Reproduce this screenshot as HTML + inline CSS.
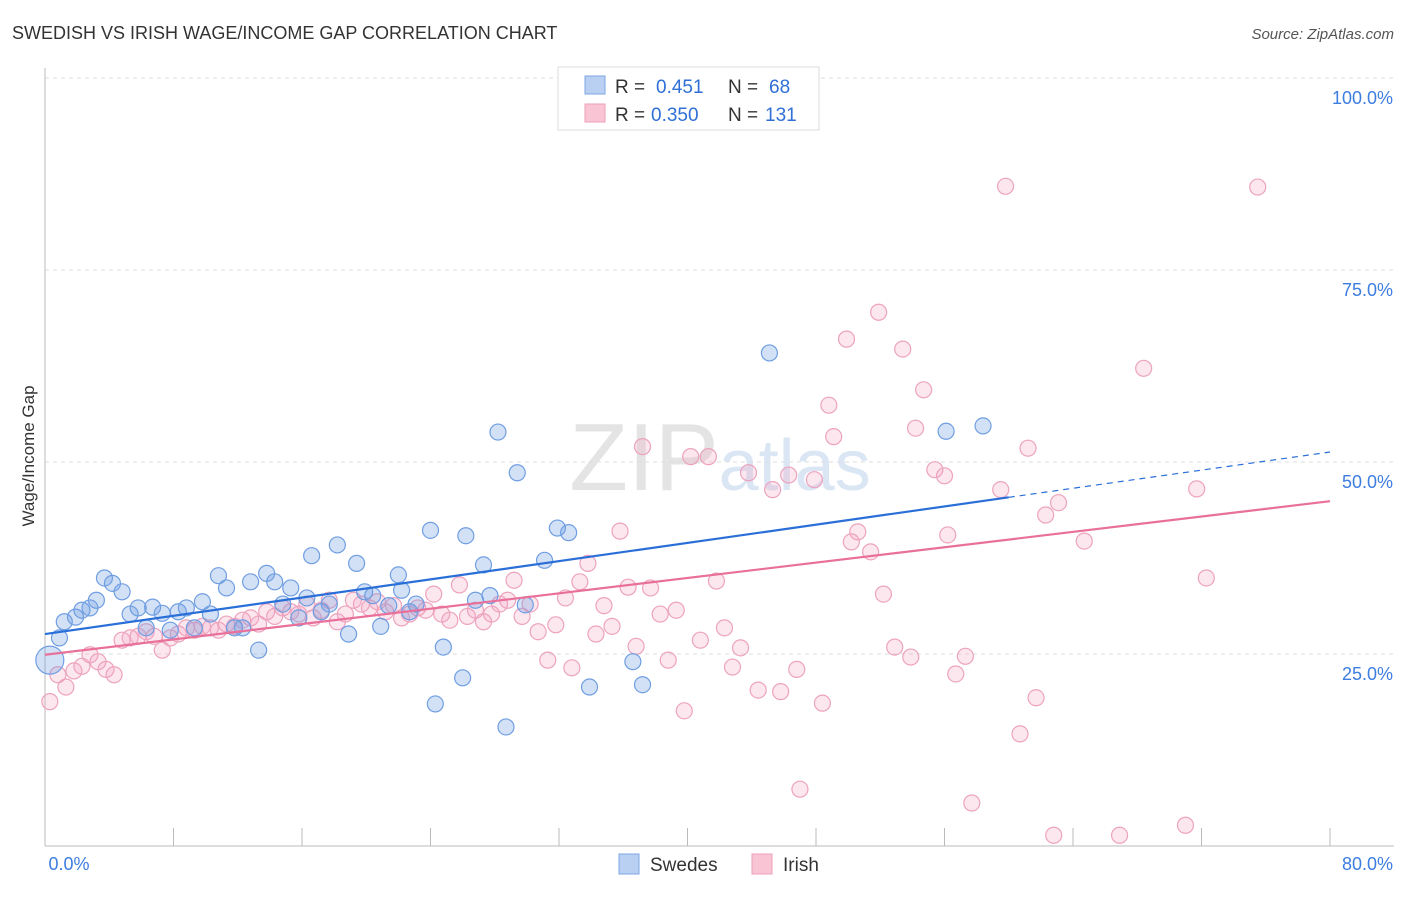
<!DOCTYPE html>
<html><head><meta charset="utf-8"><style>
body{margin:0;background:#fff;font-family:"Liberation Sans",sans-serif}
svg text{font-family:"Liberation Sans",sans-serif}
</style></head><body>
<svg id="chart" width="1406" height="892" xmlns="http://www.w3.org/2000/svg">
<text x="12" y="39" font-size="18" fill="#333">SWEDISH VS IRISH WAGE/INCOME GAP CORRELATION CHART</text>
<text x="1394" y="39" font-size="15" fill="#555" text-anchor="end" font-style="italic">Source: ZipAtlas.com</text>
<text x="720" y="490" font-size="96" fill="#e4e4e4" text-anchor="middle" font-family="Liberation Serif">ZIP<tspan fill="#dbe6f5" font-family="Liberation Sans" font-size="72">atlas</tspan></text>
<text transform="translate(34,456) rotate(-90)" font-size="17" fill="#333" text-anchor="middle">Wage/Income Gap</text>
<g id="grid"></g><g id="axes"></g><g id="pink"></g><g id="blue"></g><g id="lines"></g>
<g>
<rect x="558" y="67" width="261" height="63" fill="#fff" stroke="#ddd"/>
<rect x="585" y="76" width="20" height="18" fill="#b9d0f3" stroke="#7ea6e6"/>
<rect x="585" y="104" width="20" height="18" fill="#f9c4d4" stroke="#ee9fba"/>
<text x="615" y="93" font-size="19" fill="#333">R =</text>
<text x="656" y="93" font-size="19" fill="#2f6fd6">0.451</text>
<text x="728" y="93" font-size="19" fill="#333">N =</text>
<text x="769" y="93" font-size="19" fill="#2f6fd6">68</text>
<text x="615" y="121" font-size="19" fill="#333">R =</text>
<text x="651" y="121" font-size="19" fill="#2f6fd6">0.350</text>
<text x="728" y="121" font-size="19" fill="#333">N =</text>
<text x="765" y="121" font-size="19" fill="#2f6fd6">131</text>
</g>
<g>
<rect x="619" y="854" width="20" height="20" fill="#b9d0f3" stroke="#7ea6e6"/>
<text x="650" y="871" font-size="19" fill="#333">Swedes</text>
<rect x="752" y="854" width="20" height="20" fill="#f9c4d4" stroke="#ee9fba"/>
<text x="783" y="871" font-size="19" fill="#333">Irish</text>
</g>
</svg>
<script>
const xTicks=[0,8,16,24,32,40,48,56,64,72,80];
const yTicks=[25,50,75,100];
const yTickLabels=["25.0%","50.0%","75.0%","100.0%"];
const blueX=[0.3,0.9,1.2,1.9,2.3,2.8,3.2,3.7,4.2,4.8,5.3,5.8,6.3,6.7,7.3,7.8,8.3,8.8,9.3,9.8,10.3,10.8,11.3,11.8,12.3,12.8,13.3,13.8,14.3,14.8,15.3,15.8,16.3,16.6,17.2,17.7,18.2,18.9,19.4,19.9,20.4,20.9,21.4,22.0,22.2,22.7,23.1,24.0,24.3,24.8,26.0,26.2,26.8,27.3,27.7,28.2,28.7,29.4,29.9,31.1,31.9,32.6,33.9,36.6,37.2,45.1,56.1,58.4];
const blueY=[24.2,27.1,29.2,29.8,30.7,31.0,32.0,34.9,34.2,33.1,30.2,31.0,28.4,31.1,30.3,28.1,30.5,31.0,28.4,31.8,30.2,35.2,33.6,28.4,28.4,34.4,25.5,35.5,34.4,31.5,33.6,29.7,32.3,37.8,30.5,31.5,39.2,27.6,36.8,33.1,32.6,28.6,31.3,35.3,33.3,30.5,31.5,41.1,18.5,25.9,21.9,40.4,32.0,36.6,32.6,53.9,15.5,48.6,31.4,37.2,41.4,40.8,20.7,24.0,21.0,64.2,54.0,54.7];
const pinkX=[0.3,0.8,1.3,1.8,2.3,2.8,3.3,3.8,4.3,4.8,5.3,5.8,6.3,6.8,7.3,7.8,8.3,8.8,9.3,9.8,10.3,10.8,11.3,11.8,12.3,12.8,13.3,13.8,14.3,14.8,15.3,15.8,16.3,16.7,17.2,17.7,18.2,18.7,19.2,19.7,20.2,20.7,21.2,21.7,22.2,22.7,23.2,23.7,24.2,24.7,25.2,25.8,26.3,26.8,27.3,27.8,28.3,28.8,29.2,29.7,30.2,30.7,31.3,31.8,32.4,32.8,33.3,33.8,34.3,34.8,35.3,35.8,36.3,36.8,37.2,37.7,38.3,38.8,39.3,39.8,40.2,40.8,41.3,41.8,42.3,42.8,43.3,43.8,44.4,45.3,45.8,46.3,46.8,47.0,47.9,48.4,48.8,49.1,49.9,50.2,50.6,51.4,51.9,52.2,52.9,53.4,53.9,54.2,54.7,55.4,56.0,56.2,56.7,57.3,57.7,59.5,59.8,60.7,61.2,61.7,62.3,62.8,63.1,64.7,66.9,68.4,71.0,71.7,72.3,75.5];
const pinkY=[18.8,22.3,20.7,22.8,23.4,24.9,24.0,23.0,22.3,26.8,27.1,27.3,27.9,27.3,25.5,27.1,27.6,28.4,28.1,28.6,28.4,28.1,28.9,28.6,29.4,29.7,28.9,30.5,29.9,31.0,30.5,30.2,31.5,29.7,30.7,32.0,29.2,30.2,32.0,31.5,31.0,31.8,30.5,31.3,29.7,30.2,31.0,30.7,32.8,30.2,29.4,34.0,29.9,30.7,29.2,30.2,31.5,32.0,34.6,29.9,31.5,27.9,24.2,28.8,32.3,23.2,34.4,36.8,27.6,31.3,28.6,41.0,33.7,26.0,52.0,33.6,30.2,24.2,30.7,17.6,50.7,26.8,50.7,34.5,28.4,23.3,25.8,48.6,20.3,46.4,20.1,48.3,23.0,7.4,47.7,18.6,57.4,53.3,66.0,39.6,40.9,38.3,69.5,32.8,25.9,64.7,24.6,54.4,59.4,49.0,48.2,40.5,22.4,24.7,5.6,46.4,85.9,14.6,51.8,19.3,43.1,1.4,44.7,39.7,1.4,62.2,2.7,46.5,34.9,85.8];
const blueTrend=[27.6,45.4,51.3]; // at x=0, 60, 80
const pinkTrend=[24.9,44.9]; // at x=0, 80
const NS="http://www.w3.org/2000/svg";
const X0=45,X1=1330,Y0=846,Y100=78;
const sx=v=>X0+(X1-X0)*v/80, sy=v=>Y0-(Y0-Y100)*v/100;
function mk(tag,attrs,parent){const e=document.createElementNS(NS,tag);for(const k in attrs)e.setAttribute(k,attrs[k]);document.getElementById(parent).appendChild(e);return e;}
yTicks.forEach((t,i)=>{
 const l=mk('line',{x1:X0,x2:1394,y1:sy(t),y2:sy(t),stroke:'#ddd','stroke-dasharray':'4,4'},'grid');
 
 
 const tx=mk('text',{x:1393,y:sy(t)+26,'font-size':18,fill:'#3d7de0','text-anchor':'end'},'grid');
 tx.textContent=yTickLabels[i];
 
 
});
const ax=mk('line',{x1:X0,x2:1394,y1:Y0,y2:Y0,stroke:'#bbb'},'axes');


const ay=mk('line',{x1:X0,x2:X0,y1:68,y2:Y0,stroke:'#bbb'},'axes');


xTicks.forEach(t=>{
 const l=mk('line',{x1:sx(t),x2:sx(t),y1:828,y2:Y0,stroke:'#bbb'},'axes');
 
 
});
[["0.0%",X0+24,'middle'],["80.0%",1393,'end']].forEach(a=>{
 const t=mk('text',{x:a[1],y:870,'font-size':18,fill:'#3d7de0','text-anchor':a[2]},'axes');
 t.textContent=a[0];
 
 
});
pinkX.forEach((v,i)=>{
 const c=mk('circle',{cx:sx(v),cy:sy(pinkY[i]),r:8,fill:'rgba(244,160,190,0.25)',stroke:'#eda3bd','stroke-width':1.2},'pink');
 
 
});
blueX.forEach((v,i)=>{
 const c=mk('circle',{cx:sx(v),cy:sy(blueY[i]),r:i==0?14:8,fill:'rgba(110,155,225,0.3)',stroke:'#6f9ee2','stroke-width':1.2},'blue');
 
 
});
const b1=mk('line',{x1:sx(0),y1:sy(blueTrend[0]),x2:sx(60),y2:sy(blueTrend[1]),stroke:'#2a6fd8','stroke-width':2.2},'lines');


const b2=mk('line',{x1:sx(60),y1:sy(blueTrend[1]),x2:sx(80),y2:sy(blueTrend[2]),stroke:'#2a6fd8','stroke-width':1.2,'stroke-dasharray':'6,5'},'lines');


const p1=mk('line',{x1:sx(0),y1:sy(pinkTrend[0]),x2:sx(80),y2:sy(pinkTrend[1]),stroke:'#e8709a','stroke-width':2.2},'lines');


</script>
</body></html>
